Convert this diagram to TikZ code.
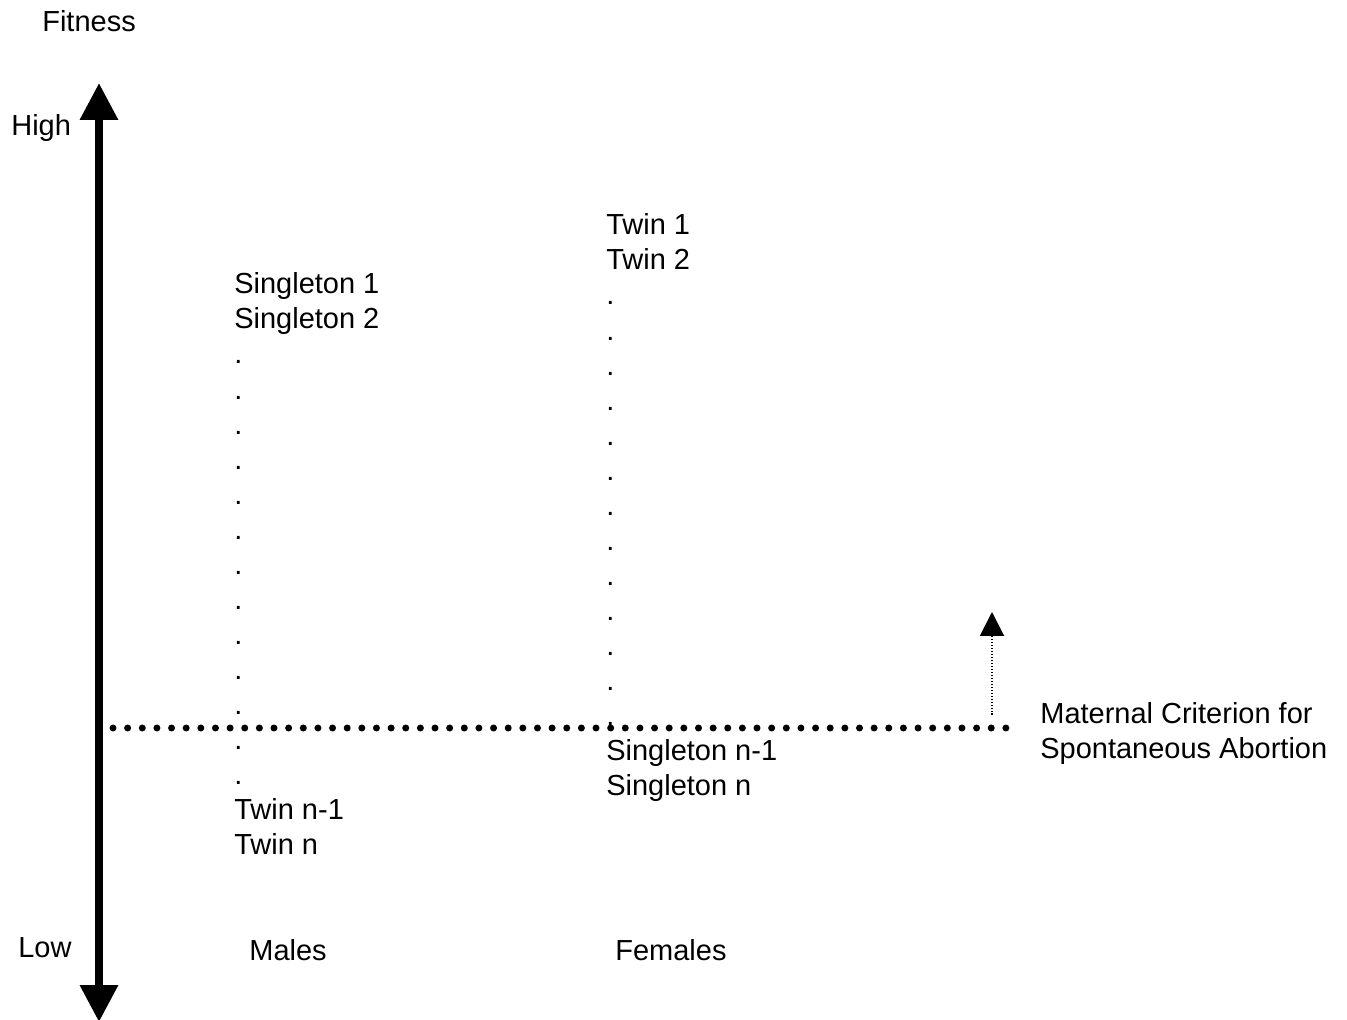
\documentclass[tikz,border=0pt]{standalone}
\usepackage{fontspec}
\setmainfont{Liberation Sans}
\usetikzlibrary{arrows.meta}

\begin{document}
\begin{tikzpicture}[x=0.02cm,y=-0.02cm,
    every node/.style={inner sep=0pt,font=\fontsize{16.5}{19.95}\selectfont},
    word/.style={anchor=base west},
    column/.style={anchor=north west,align=left},
    axis/.style={line width=0.16cm,{Triangle[width=0.73cm,length=0.74cm]}-{Triangle[width=0.73cm,length=0.74cm]}},
    criterion/.style={line width=0.14cm,line cap=round,dash pattern=on 0pt off 0.2928cm},
    rise/.style={line width=0.04cm,dash pattern=on 0.03cm off 0.03cm,-{Triangle[width=0.48cm,length=0.48cm]}}]
  \useasboundingbox (0,0) rectangle (1347,1020);
  \draw
    (42,32) node[word] (fitness) {Fitness}
    (11,135.5) node[word] (high) {High}
    (18,957) node[word] (low) {Low}
    (249,960) node[word] (males) {Males}
    (615,960) node[word] (females) {Females};
  \draw
    (234,272.5) node[column] (malelist) {Singleton 1\\Singleton 2\\.\\.\\.\\.\\.\\.\\.\\.\\.\\.\\.\\.\\.\\Twin n-1\\Twin n}
    (606,213.5) node[column] (femalelist) {Twin 1\\Twin 2\\.\\.\\.\\.\\.\\.\\.\\.\\.\\.\\.\\.\\.\\Singleton n-1\\Singleton n}
    (1040,702.5) node[column] (rule) {Maternal Criterion for\\Spontaneous Abortion};
  \coordinate (top) at (99,83);
  \coordinate (bottom) at (99,1022);
  \coordinate (critL) at (113,728);
  \coordinate (critR) at (1006,728);
  \coordinate (foot) at (992,715);
  \coordinate (tip) at (992,612);
  \draw[axis] (bottom) -- (top);
  \draw[criterion] (critL) -- (critR);
  \draw[rise] (foot) -- (tip);
\end{tikzpicture}
\end{document}
